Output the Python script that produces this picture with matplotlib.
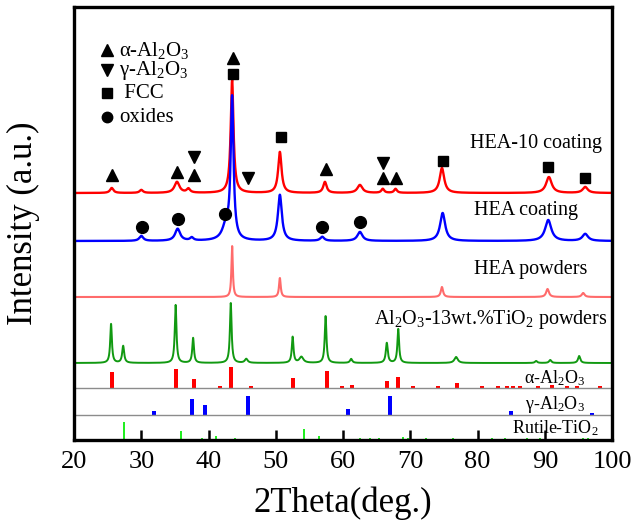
import numpy as np
import matplotlib
matplotlib.use('Agg')
import matplotlib.pyplot as plt

plt.rcParams['font.family'] = ['Liberation Serif', 'DejaVu Serif']
plt.rcParams['mathtext.fontset'] = 'custom'
plt.rcParams['mathtext.rm'] = 'Liberation Serif'
plt.rcParams['mathtext.it'] = 'Liberation Serif:italic'

# ---- 数据 (读图估计, y 为叠加后的绘图单位) ----
# HEA-10 coating
red_base = 247
red_pos = [25.6, 30.0, 35.3, 37.0, 43.5, 50.6, 57.3, 62.5, 65.9, 67.8, 74.7, 90.6, 96.0]
red_h   = [5, 3, 11, 4, 113, 41, 11, 8, 4, 4, 25, 16, 6]
red_w   = [0.6, 0.6, 0.9, 0.6, 0.5, 0.6, 0.6, 0.9, 0.5, 0.5, 0.8, 1.0, 0.9]

# HEA coating
blue_base = 199
blue_pos = [30.0, 35.4, 37.5, 42.6, 43.5, 50.6, 56.9, 62.5, 74.8, 90.5, 96.0]
blue_h   = [5, 12, 3, 14, 141, 46, 4, 9, 28, 21, 7]
blue_w   = [0.7, 0.9, 0.6, 1.3, 0.5, 0.7, 0.7, 0.9, 0.9, 1.1, 1.0]

# HEA powders
pink_base = 143
pink_pos = [43.5, 50.6, 74.7, 90.4, 95.7]
pink_h   = [51, 19, 10, 8, 4]
pink_w   = [0.25, 0.3, 0.4, 0.5, 0.5]

# Al2O3-13wt.%TiO2 powders
green_base = 77
green_pos = [25.5, 27.3, 35.1, 37.7, 43.3, 45.6, 52.5, 53.8, 57.4, 61.2, 66.5, 68.2, 76.8, 88.7, 90.8, 95.1]
green_h   = [39, 17, 58, 25, 60, 4, 26, 6, 47, 4, 20, 34, 6, 2, 3, 7]
green_w   = [0.3, 0.35, 0.3, 0.3, 0.3, 0.5, 0.3, 0.7, 0.3, 0.4, 0.35, 0.3, 0.6, 0.4, 0.4, 0.4]

# 标准卡片
alpha_base = 52
alpha_pos = [25.6, 35.2, 37.8, 41.7, 43.4, 46.3, 52.6, 57.6, 59.8, 61.3, 66.5, 68.2, 70.4,
             74.1, 76.9, 80.7, 83.1, 84.4, 85.3, 86.3, 89.0, 91.1, 93.3, 94.8, 98.2]
alpha_h   = [16, 19, 9, 2, 21, 2, 10, 17, 2, 3, 7, 11, 2,
             2, 5, 2, 2, 2, 2, 2, 2, 3, 2, 2, 2]
gamma_base = 25
gamma_pos = [31.9, 37.5, 39.4, 45.9, 60.8, 67.0, 85.0, 97.0]
gamma_h   = [4, 16, 10, 19, 6, 19, 4, 2]
rutile_pos = [27.4, 35.9, 39.0, 41.1, 43.9, 54.2, 56.4, 62.5, 64.0, 65.4, 68.9, 69.7,
              72.3, 76.4, 82.2, 84.1, 87.3, 89.3, 95.7, 96.4]
rutile_h   = [18, 9, 2, 4, 2, 11, 4, 2, 1.5, 1.5, 3, 1.5,
              1.5, 1.5, 1.5, 1.5, 1.5, 1.5, 1.5, 1.5]

# 峰标记
tri_up = [(25.6, 265), (35.3, 268), (37.8, 265), (43.6, 382), (57.5, 271), (65.9, 262), (67.8, 262)]
tri_dn = [(37.8, 283), (45.9, 262), (65.9, 277)]
square = [(43.6, 366), (50.7, 303), (74.8, 279), (90.5, 273), (95.9, 262)]
dots   = [(30.1, 213), (35.4, 221), (42.5, 226), (56.9, 213), (62.5, 218)]


def trace(x, base, pos, h, w):
    y = np.full_like(x, float(base))
    for c, a, fw in zip(pos, h, w):
        g = fw / 2
        y += a * g ** 2 / ((x - c) ** 2 + g ** 2)
    return y


x = np.linspace(20, 100, 4000)

fig = plt.figure(figsize=(6.33, 5.21), dpi=100)
ax = fig.add_axes([0.117, 0.1555, 0.85, 0.831])

ax.plot(x, trace(x, red_base, red_pos, red_h, red_w), color='#ff0000', lw=1.7)
ax.plot(x, trace(x, blue_base, blue_pos, blue_h, blue_w), color='#0000ff', lw=1.7)
ax.plot(x, trace(x, pink_base, pink_pos, pink_h, pink_w), color='#ff6b6b', lw=1.5)
ax.plot(x, trace(x, green_base, green_pos, green_h, green_w), color='#119911', lw=1.4)

ax.axhline(alpha_base, color='#8c8c8c', lw=1.0)
ax.axhline(gamma_base, color='#8c8c8c', lw=1.0)
ax.bar(alpha_pos, alpha_h, width=0.6, bottom=alpha_base, color='#ff0000')
ax.bar(gamma_pos, gamma_h, width=0.6, bottom=gamma_base, color='#0000ff')
ax.bar(rutile_pos, rutile_h, width=0.32, bottom=0, color='#22ee22')

for px, py in tri_up:
    ax.plot(px, py, marker='^', color='black', ms=9, ls='none')
for px, py in tri_dn:
    ax.plot(px, py, marker='v', color='black', ms=9, ls='none')
for px, py in square:
    ax.plot(px, py, marker='s', color='black', ms=7, ls='none')
for px, py in dots:
    ax.plot(px, py, marker='o', color='black', ms=8.5, ls='none')

# 图例
leg = [('^', 390, 'α-Al$_2$O$_3$'), ('v', 370, 'γ-Al$_2$O$_3$'),
       ('s', 347, ' FCC'), ('o', 323, 'oxides')]
for m, ly, txt in leg:
    ax.plot(24.9, ly, marker=m, color='black', ms=9 if m in '^v' else 7.5, ls='none')
    ax.text(26.7, ly, txt, fontsize=15, va='center', ha='left')

# 曲线标签
ax.text(98.5, 297, 'HEA-10 coating', fontsize=14.5, ha='right', va='center')
ax.text(94.9, 230, 'HEA coating', fontsize=14.5, ha='right', va='center')
ax.text(96.3, 171, 'HEA powders', fontsize=14.5, ha='right', va='center')
ax.text(99.3, 120, 'Al$_2$O$_3$-13wt.%TiO$_2$ powders', fontsize=14.5, ha='right', va='center')
ax.text(96.0, 62, 'α-Al$_2$O$_3$', fontsize=13, ha='right', va='center')
ax.text(96.0, 35, 'γ-Al$_2$O$_3$', fontsize=13, ha='right', va='center')
ax.text(98.0, 12, 'Rutile-TiO$_2$', fontsize=13, ha='right', va='center')

ax.set_xlim(20, 100)
ax.set_ylim(0, 433)
ax.set_xticks(range(20, 101, 10))
ax.set_yticks([])
ax.tick_params(axis='x', direction='in', length=7, width=1.8, labelsize=19, pad=8)
for s in ax.spines.values():
    s.set_linewidth(2.4)

ax.set_xlabel('2Theta(deg.)', fontsize=25)
ax.set_ylabel('Intensity (a.u.)', fontsize=25)
ax.xaxis.set_label_coords(0.5, -0.108)
ax.yaxis.set_label_coords(-0.063, 0.5)

fig.savefig('out.png', dpi=100)
